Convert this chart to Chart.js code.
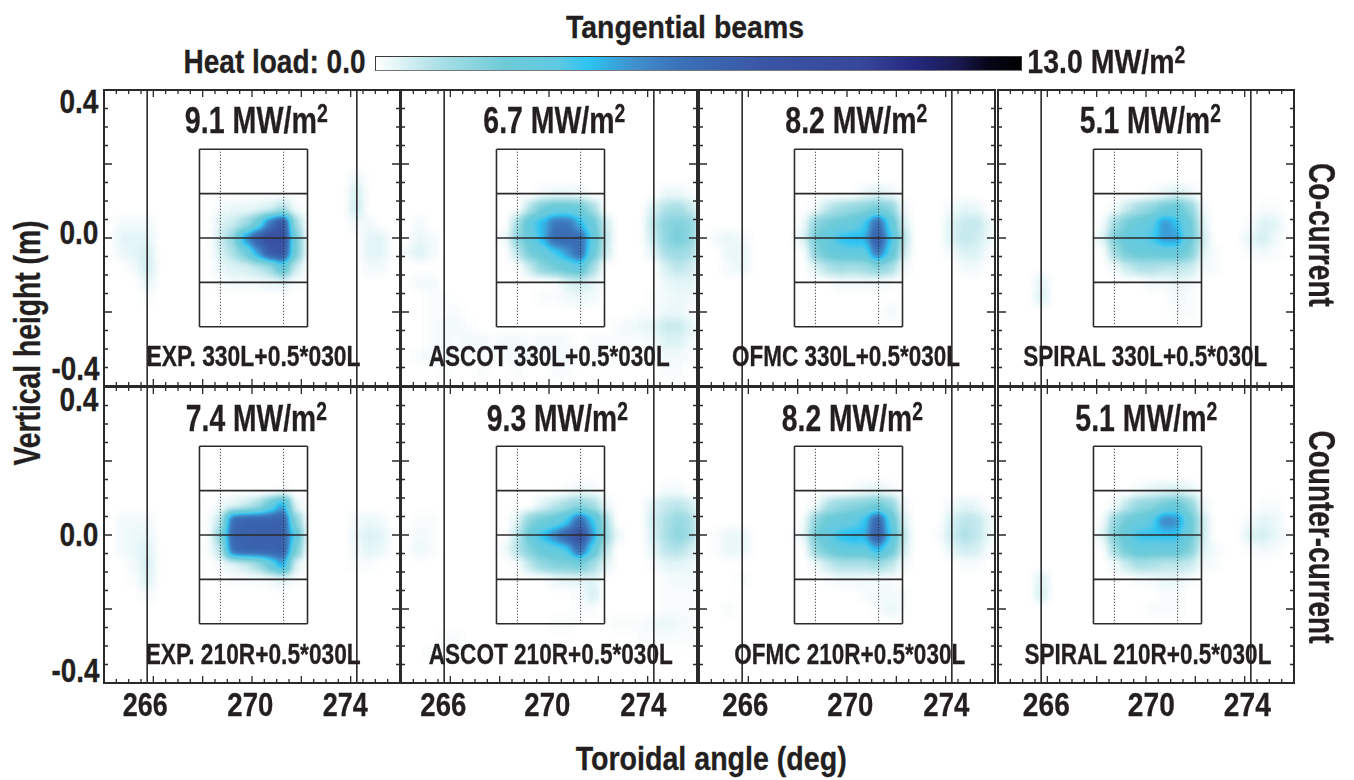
<!DOCTYPE html>
<html>
<head>
<meta charset="utf-8">
<title>Tangential beams</title>
<script src="https://cdn.jsdelivr.net/npm/chart.js@4"></script>
<style>
  html, body { margin: 0; padding: 0; background: #fff; }
  #page { position: relative; width: 1354px; height: 780px; overflow: hidden; }
  #page canvas { position: absolute; }
  .txt { position: absolute; white-space: nowrap; line-height: 1; color: #231f20; font-weight: 700;
         font-family: "Liberation Sans Narrow", "Liberation Sans", sans-serif; transform-origin: center center;
         -webkit-text-stroke: 0.3px #231f20; }
  .txt sup { font-size: 68%; line-height: 0; vertical-align: baseline; position: relative; top: -0.42em; }
  #colorbar { position: absolute; left: 375px; top: 56px; width: 647px; height: 15px; box-sizing: border-box;
              border: 1px solid #3a3a3a; border-bottom-color: #777; }
</style>
</head>
<body>
<div id="page"><div id="colorbar"></div></div>
<script>
// ─── DATA ────────────────────────────────────────────────
const panelLabels = [
  'EXP. 330L+0.5*030L', 'ASCOT 330L+0.5*030L', 'OFMC 330L+0.5*030L', 'SPIRAL 330L+0.5*030L',
  'EXP. 210R+0.5*030L', 'ASCOT 210R+0.5*030L', 'OFMC 210R+0.5*030L', 'SPIRAL 210R+0.5*030L'
];
const peakLabels = ['9.1', '6.7', '8.2', '5.1', '7.4', '9.3', '8.2', '5.1'];
const xTickLabels = ['266', '270', '274'];
const yTickLabels = ['0.4', '0.0', '-0.4'];

const wallAngles = [265.75, 274.25];
const boxAngles = [267.87, 272.25];
const dottedAngles = [268.72, 271.28];
const boxHeights = [0.24, 0.12, 0, -0.12, -0.24];

const colAngles = [
  264.25, 264.75, 265.25, 265.75, 266.25, 266.75, 267.25, 267.75,
  268.25, 268.75, 269.25, 269.75, 270.25, 270.75, 271.25, 271.75,
  272.25, 272.75, 273.25, 273.75, 274.25, 274.75, 275.25, 275.75
];
const rowHeights = [0.16, 0.12, 0.08, 0.04, 0, -0.04, -0.08, -0.12, -0.16, -0.2, -0.24, -0.28, -0.32, -0.36];

// heat load (MW/m2), rows follow rowHeights, columns follow colAngles
const heatCoExp = [
  [0,0,0,0,0,0,0,0, 0,0,0,0,0,0,0,0, 0,0,0,0,.3,0,0,0],
  [0,0,0,0,0,0,0,0, 0,0,0,0,0,0,0,0, 0,0,0,0,.6,0,0,0],
  [0,0,0,0,0,0,0,0, 0,.2,.3,.3,.4,.6,1.2,.2, 0,0,0,0,.7,0,0,0],
  [0,.2,.2,.2,0,0,0,0, 0,.5,.8,1.5,3,6,8,1.5, 0,0,0,0,.2,.2,0,0],
  [0,.4,.4,.4,0,0,0,0, 0,.8,1.8,5,7.5,8.5,8.5,2.5, 0,0,0,0,0,.4,.4,0],
  [0,.3,.4,.6,0,0,0,0, 0,.6,1.2,2.5,5,7.5,8,2.5, 0,0,0,0,0,.4,.4,0],
  [0,0,.2,.7,0,0,0,0, 0,.3,.5,.6,1,1.5,3.5,.8, 0,0,0,0,0,.2,.2,0],
  [0,0,0,.4,0,0,0,0, 0,.1,.2,.2,.2,.3,.4,.1, 0,0,0,0,0,0,0,0],
  [0,0,0,.1,0,0,0,0, 0,0,0,0,0,0,0,0, 0,0,0,0,0,0,0,0]
];
const heatCoAscot = [
  [0,0,0,0,0,0,0,0, 0,0,0,0,0,0,0,0, 0,0,0,0,0,0,0,0],
  [0,0,0,0,0,0,0,0, 0,0,0,.2,.3,.3,.2,0, 0,0,0,0,0,.3,.3,.1],
  [0,0,0,0,0,0,0,0, 0,0,1.2,2.5,3,3,2.8,1.5, 0,0,0,0,.6,1.2,1.4,.8],
  [0,.2,0,0,0,0,0,0, 0,1.5,3.5,4.5,6,6,4.5,3, .8,0,0,0,1,1.9,2.2,1.9],
  [0,.3,.2,0,0,0,0,0, .2,2,3,4.5,6.5,6.5,6.5,3.5, 1,0,0,0,.8,1.9,2.4,1.9],
  [.2,.5,.2,0,0,0,0,0, 0,1,2.5,3,4,5,6.5,3, .8,0,0,0,.4,1.4,1.6,1.3],
  [0,0,0,0,0,0,0,0, 0,0,.8,2,2.5,3,3.5,1.5, 0,0,0,0,0,.6,1,.7],
  [0,.2,.2,0,0,0,0,0, 0,0,0,0,0,.5,.7,.4, 0,0,0,0,0,.3,.4,.4],
  [0,0,.1,.1,0,0,0,0, 0,0,0,.1,.1,.2,.3,.2, 0,0,0,0,.1,.2,.3,.2],
  [0,0,.1,.1,.1,0,0,0, 0,0,0,0,0,0,0,0, 0,0,0,.1,.1,.3,.3,.1],
  [0,0,.1,.2,.2,.1,0,0, 0,0,0,0,0,0,0,0, 0,.1,.2,.3,.4,.8,.8,.4],
  [0,0,.1,.2,.1,.2,.2,.1, .2,.2,.1,.2,.2,.1,0,.1, .1,.1,.1,.1,.2,.5,.5,.2],
  [0,.1,.2,.2,.1,.1,.1,.1, .1,.2,.1,.1,.2,.2,.1,.1, .1,.1,0,0,.1,.2,.2,.1],
  [0,0,0,.1,0,0,.1,0, 0,.1,0,0,.1,.1,0,0, 0,0,0,0,0,.1,.1,0]
];
const heatCoOfmc = [
  [0,0,0,0,0,0,0,0, 0,0,0,0,0,0,0,0, 0,0,0,0,0,0,0,0],
  [0,0,0,0,0,0,0,0, 0,0,0,0,0,.3,.5,.3, 0,0,0,0,0,0,0,0],
  [0,0,0,0,0,0,0,0, 0,.2,1,1.5,1.8,2,2.5,2, .2,0,0,0,.2,.4,.3,0],
  [0,0,0,0,0,0,0,0, .2,2,2.5,2.8,3.2,4,6.5,3.5, .6,0,0,0,.5,.8,.9,.3],
  [0,.2,.3,.2,0,0,0,0, .5,2.5,3.2,4.3,4.5,4.5,7.5,4.2, 1.2,0,0,0,.5,.9,.7,.3],
  [0,0,.3,.3,0,0,0,0, 0,2,2.8,3.2,3.5,3.3,6,3.5, .8,0,0,0,.2,.5,.5,.1],
  [0,0,.2,.3,0,0,0,0, 0,.5,1.2,1.5,1.3,1.5,2,1.5, .2,0,0,0,0,.2,.2,0],
  [0,0,0,0,0,0,0,0, 0,0,0,.2,.2,.2,.2,.1, 0,0,0,0,0,0,0,0],
  [0,0,0,0,0,0,0,0, 0,0,0,0,0,0,0,0, 0,0,0,0,0,0,0,0],
  [0,0,0,0,0,0,0,0, 0,0,0,0,0,0,0,.2, 0,0,0,0,0,0,0,0]
];
const heatCoSpiral = [
  [0,0,0,0,0,0,0,0, 0,0,0,0,0,0,0,0, 0,0,0,0,0,0,0,0],
  [0,0,0,0,0,0,0,0, 0,0,0,0,.1,.3,.6,.3, 0,0,0,0,0,0,0,0],
  [0,0,0,0,0,0,0,0, 0,.2,.8,1.5,2,2.6,3,2, .2,0,0,0,0,.1,.1,0],
  [0,0,0,0,0,0,0,0, .1,1.5,2.5,3,3.5,5.2,4.3,2.8, .5,0,0,0,.1,.5,.4,0],
  [0,0,0,0,0,0,0,0, .4,2.3,3,3.5,4,5,5,2.8, .8,0,0,0,.4,.6,.2,0],
  [0,0,0,0,0,0,0,0, 0,1.5,2.5,2.8,2.8,3,3,2.3, .5,.1,0,0,.1,.2,.1,0],
  [0,0,0,0,0,0,0,0, 0,.2,.8,1.2,1.2,1,1,.8, .2,.1,0,0,0,0,0,0],
  [0,0,0,.4,0,0,0,0, 0,0,0,0,.2,.2,.3,.2, 0,0,0,0,0,0,0,0],
  [0,0,0,.5,0,0,0,0, 0,0,0,0,0,0,.2,.1, 0,0,0,0,0,0,0,0],
  [0,0,0,0,0,0,0,0, 0,0,0,0,0,0,.1,.1, 0,0,0,0,0,0,0,0]
];
const heatCtrExp = [
  [0,0,0,0,0,0,0,0, 0,0,0,0,0,0,0,0, 0,0,0,0,0,0,0,0],
  [0,0,0,0,0,0,0,0, 0,0,0,0,0,0,.1,0, 0,0,0,0,0,0,0,0],
  [0,0,0,0,0,0,0,0, 0,.2,.4,.8,1.5,3,5,.4, 0,0,0,0,0,0,0,0],
  [0,.2,.2,.2,0,0,0,0, .1,1,6.5,7,7,7,7.2,2, 0,0,0,0,.2,.3,.2,0],
  [0,.2,.3,.3,0,0,0,0, .1,2,7,7,7.2,7.2,7.2,3.5, 0,0,0,0,.3,.5,.4,0],
  [0,.2,.3,.5,0,0,0,0, .1,1,6.5,7,7,7,7.2,2.5, 0,0,0,0,.2,.4,.3,0],
  [0,0,.2,.6,0,0,0,0, 0,.2,.4,.8,1.5,3,5,.5, 0,0,0,0,.1,.1,0,0],
  [0,0,.1,.5,0,0,0,0, 0,0,.1,.1,.1,.2,.4,.1, 0,0,0,0,0,0,0,0],
  [0,0,0,.2,0,0,0,0, 0,0,0,0,0,0,0,0, 0,0,0,0,0,0,0,0]
];
const heatCtrAscot = [
  [0,0,0,0,0,0,0,0, 0,0,0,0,0,0,0,0, 0,0,0,0,0,0,0,0],
  [0,0,0,0,0,0,0,0, 0,0,0,0,0,.1,.3,.2, 0,0,0,0,0,.2,.2,0],
  [0,0,0,0,0,0,0,0, 0,0,0,.5,1,1.5,2,1.5, .4,0,0,0,.5,.9,1,.7],
  [0,.1,.1,0,0,0,0,0, 0,.5,2,2.6,3,4,6.5,4.3, 1.5,0,0,0,.7,1.2,1.7,1.3],
  [0,.2,.1,0,0,0,0,0, 0,1,3,4.3,5.5,7,8.5,5, 1.8,.3,0,0,.6,1.3,1.9,1.3],
  [0,.3,.1,0,0,0,0,0, .2,1.2,2.2,3,3.3,4,6.5,3.5, 1,0,0,0,.4,1,1.1,.7],
  [0,0,0,0,0,0,0,0, 0,.1,1,1.8,2.2,2.2,2.5,1.5, .5,0,0,0,.1,.4,.4,.3],
  [0,0,0,0,0,0,0,0, 0,0,0,0,.3,.4,.4,.5, 0,0,0,0,0,.1,.2,.2],
  [0,0,0,0,0,0,0,0, 0,0,0,0,0,0,.1,.6, 0,0,0,0,0,.1,.1,.1],
  [0,0,0,0,0,0,0,0, 0,0,0,0,0,0,.1,.1, 0,0,0,0,0,.1,.1,.1],
  [0,0,0,0,0,0,0,0, 0,0,0,0,.1,.1,0,0, 0,.1,.1,.1,.2,.3,.2,.1],
  [0,0,0,.1,.1,0,0,0, 0,0,0,0,0,0,0,0, 0,0,0,.1,.1,.1,.1,.1],
  [0,0,.1,.1,.1,0,0,0, 0,0,0,0,0,0,0,0, 0,0,0,0,0,0,0,0]
];
const heatCtrOfmc = [
  [0,0,0,0,0,0,0,0, 0,0,0,0,0,0,0,0, 0,0,0,0,0,0,0,0],
  [0,0,0,0,0,0,0,0, 0,0,0,0,.1,.3,.4,.2, 0,0,0,0,0,0,0,0],
  [0,0,0,0,0,0,0,0, 0,.2,1.2,1.8,2,2.2,2.6,2, .2,0,0,0,.2,.4,.3,0],
  [0,0,0,0,0,0,0,0, .1,2,2.8,3,3.4,4.2,7,3.5, .6,0,0,0,.6,1,.9,.3],
  [0,.1,.3,.3,0,0,0,0, .3,2.5,3.4,4.3,4.5,4.5,7.5,4, 1,0,0,.1,.7,1.2,.9,.3],
  [0,.1,.3,.3,0,0,0,0, 0,1.8,2.6,3.2,3.5,3.3,4.5,3, .7,0,0,0,.4,.7,.6,.1],
  [0,0,0,0,0,0,0,0, 0,.2,.8,1.2,1.2,1.2,1.5,1, .2,0,0,0,0,.1,.1,0],
  [0,0,0,.1,0,0,0,0, 0,0,.1,.2,.2,.2,.2,.1, 0,0,0,0,0,0,0,0],
  [0,0,0,0,0,0,0,0, 0,0,0,0,0,.1,.2,.2, .1,0,0,0,0,0,0,0],
  [0,0,.1,0,0,0,0,0, 0,0,0,0,0,0,.1,.3, .1,0,0,0,0,0,0,0]
];
const heatCtrSpiral = [
  [0,0,0,0,0,0,0,0, 0,0,0,0,0,0,0,0, 0,0,0,0,0,0,0,0],
  [0,0,0,0,0,0,0,0, 0,0,0,.2,.4,.5,.6,.4, 0,0,0,0,0,0,0,0],
  [0,0,0,0,0,0,0,0, 0,.2,1,1.8,2,2.6,3,2, .3,0,0,0,0,.1,.1,0],
  [0,0,0,0,0,0,0,0, .1,1.8,2.6,3,3.6,5.5,5.2,3, .8,0,0,0,.2,.4,.3,0],
  [0,0,0,0,0,0,0,0, .4,2.2,3.2,4.2,4.2,4.3,4.3,2.8, .8,0,0,0,.5,.6,.3,.1],
  [0,0,0,0,0,0,0,0, 0,1.5,2.6,3.2,3,3,3,2.2, .5,.2,0,0,.1,.2,.1,0],
  [0,0,0,0,0,0,0,0, 0,.2,.8,1.4,1.2,1,1,.8, .2,.1,0,0,0,0,0,0],
  [0,0,0,.5,0,0,0,0, 0,0,0,.1,.2,.3,.3,.1, 0,0,0,0,0,0,0,0],
  [0,0,0,.6,0,0,0,0, 0,0,0,0,0,.1,.1,0, 0,0,0,0,0,0,0,0],
  [0,0,0,0,0,0,0,0, 0,0,0,0,.1,.1,.1,0, 0,0,0,0,0,0,0,0]
];
const panelHeat = [heatCoExp, heatCoAscot, heatCoOfmc, heatCoSpiral, heatCtrExp, heatCtrAscot, heatCtrOfmc, heatCtrSpiral];

const heatMax = 13;
const rampStops = [0, 0.1, 0.2, 0.28, 0.33, 0.4, 0.47, 0.6, 0.75, 0.83, 0.9, 0.95, 1];
const rampColors = ['#ffffff', '#a9dfe6', '#6ecbd8', '#5fc9e2', '#2cc4f2', '#4190cc', '#3a72b8',
                    '#3a55a5', '#37479b', '#262a82', '#1a1a52', '#050518', '#000000'];

// ─── COLOUR RAMP ─────────────────────────────────────────
function hexRgb(h) { return [1, 3, 5].map(i => parseInt(h.slice(i, i + 2), 16)); }

function rampRgb(t) {
  let i = 0;
  while (i < rampStops.length - 2 && t > rampStops[i + 1]) i++;
  const f = Math.min(1, Math.max(0, (t - rampStops[i]) / (rampStops[i + 1] - rampStops[i])));
  const a = hexRgb(rampColors[i]), b = hexRgb(rampColors[i + 1]);
  return a.map((v, k) => Math.round(v + (b[k] - v) * f));
}

const rampTable = [];
for (let g = 0; g < 256; g++) rampTable.push(rampRgb(g / 255));

// cells are painted in grey (value / heatMax), the layer is softened, then mapped through the ramp
const cellSprites = {};
function cellSprite(v) {
  if (!cellSprites[v]) {
    const c = document.createElement('canvas');
    c.width = 13; c.height = 15;
    const g = c.getContext('2d');
    const level = Math.round(v / heatMax * 255);
    g.fillStyle = 'rgb(' + level + ',' + level + ',' + level + ')';
    g.fillRect(0, 0, 13, 15);
    cellSprites[v] = c;
  }
  return cellSprites[v];
}

// ─── PLUGINS ─────────────────────────────────────────────
const heatLayer = {
  id: 'heatLayer',
  beforeDatasetDraw(chart, args) {
    if (args.index !== 0) return;
    const a = chart.chartArea;
    chart.ctx.fillStyle = '#000';
    chart.ctx.fillRect(a.left, a.top, a.right - a.left, a.bottom - a.top);
  },
  afterDatasetDraw(chart, args) {
    if (args.index !== 0) return;
    const a = chart.chartArea, w = a.right - a.left, h = a.bottom - a.top;
    const tmp = document.createElement('canvas');
    tmp.width = w; tmp.height = h;
    const t = tmp.getContext('2d', { willReadFrequently: true });
    t.fillStyle = '#000';
    t.fillRect(0, 0, w, h);
    t.filter = 'blur(4px)';
    t.drawImage(chart.canvas, a.left, a.top, w, h, 0, 0, w, h);
    t.filter = 'none';
    const img = t.getImageData(0, 0, w, h);
    for (let i = 0; i < img.data.length; i += 4) {
      const c = rampTable[img.data[i]];
      img.data[i] = c[0]; img.data[i + 1] = c[1]; img.data[i + 2] = c[2]; img.data[i + 3] = 255;
    }
    chart.ctx.putImageData(img, a.left, a.top);
  }
};

const panelFrame = {
  id: 'panelFrame',
  afterDraw(chart) {
    const { ctx, chartArea: a, scales: { x, y } } = chart;
    ctx.save();
    ctx.strokeStyle = '#2b2a2b';
    ctx.lineWidth = 1.3;
    ctx.beginPath();
    x.ticks.forEach(t => {
      const px = x.getPixelForValue(t.value);
      const len = t.value % 2 === 0 ? 7 : 4;
      ctx.moveTo(px, a.top); ctx.lineTo(px, a.top + len);
      ctx.moveTo(px, a.bottom); ctx.lineTo(px, a.bottom - len);
    });
    y.ticks.forEach(t => {
      const py = y.getPixelForValue(t.value);
      const q = t.value / 0.2;
      const len = Math.abs(q - Math.round(q)) < 1e-6 ? 8 : 4;
      ctx.moveTo(a.left, py); ctx.lineTo(a.left + len, py);
      ctx.moveTo(a.right, py); ctx.lineTo(a.right - len, py);
    });
    ctx.stroke();
    ctx.lineWidth = 2;
    ctx.strokeRect(a.left, a.top, a.right - a.left, a.bottom - a.top);
    ctx.restore();
  }
};

// ─── PANEL ───────────────────────────────────────────────
function lineSet(points, width, dash) {
  return {
    data: points, showLine: true, pointRadius: 0, borderColor: '#2b2a2b',
    borderWidth: width, borderDash: dash || [], order: 1
  };
}

function heatCells(grid) {
  const cells = [];
  grid.forEach((row, r) => row.forEach((v, c) => {
    if (v > 0) cells.push({ x: colAngles[c], y: rowHeights[r], v });
  }));
  return cells.sort((a, b) => a.v - b.v);
}

function makePanel(i, left, top) {
  const pad = 3, w = 296, h = 296;
  const cv = document.createElement('canvas');
  cv.width = w + pad * 2; cv.height = h + pad * 2;
  cv.style.left = (left - pad) + 'px';
  cv.style.top = (top - pad) + 'px';
  document.getElementById('page').appendChild(cv);

  const boxTop = boxHeights[0], boxBot = boxHeights[boxHeights.length - 1];
  const datasets = [{
    data: heatCells(panelHeat[i]),
    pointStyle: c => c.raw ? cellSprite(c.raw.v) : 'rect',
    pointRadius: 6,
    order: 10
  }];
  wallAngles.forEach(a => datasets.push(lineSet([{ x: a, y: -0.4 }, { x: a, y: 0.4 }], 1.6)));
  dottedAngles.forEach(a => datasets.push(lineSet([{ x: a, y: boxBot }, { x: a, y: boxTop }], 1.1, [1, 2])));
  boxAngles.forEach(a => datasets.push(lineSet([{ x: a, y: boxBot }, { x: a, y: boxTop }], 1.6)));
  boxHeights.forEach(b => datasets.push(lineSet([{ x: boxAngles[0], y: b }, { x: boxAngles[1], y: b }], 1.6)));

  new Chart(cv.getContext('2d'), {
    type: 'scatter',
    data: { datasets },
    options: {
      responsive: false,
      animation: false,
      layout: { padding: pad, autoPadding: false },
      plugins: { legend: { display: false }, tooltip: { enabled: false } },
      scales: {
        x: { type: 'linear', display: false, min: 264, max: 276, ticks: { stepSize: 0.5, autoSkip: false } },
        y: { type: 'linear', display: false, min: -0.4, max: 0.4, ticks: { stepSize: 0.05, autoSkip: false } }
      }
    },
    plugins: [heatLayer, panelFrame]
  });
}

// ─── TEXT ────────────────────────────────────────────────
// x0..x1 is the ink span in the reference, text gets squeezed to fit it
function place(html, x0, x1, cy, size) {
  const el = document.createElement('div');
  el.className = 'txt';
  el.innerHTML = html;
  el.style.fontSize = size + 'px';
  document.getElementById('page').appendChild(el);
  const natural = el.getBoundingClientRect().width;
  el.style.left = ((x0 + x1) / 2 - natural / 2) + 'px';
  el.style.top = (cy - size / 2) + 'px';
  el.style.transform = 'scaleX(' + (x1 - x0) / natural + ')';
}

function placeRot(html, cx, y0, y1, size, rot) {
  const el = document.createElement('div');
  el.className = 'txt';
  el.innerHTML = html;
  el.style.fontSize = size + 'px';
  document.getElementById('page').appendChild(el);
  const natural = el.getBoundingClientRect().width;
  el.style.left = (cx - natural / 2) + 'px';
  el.style.top = ((y0 + y1) / 2 - size / 2) + 'px';
  el.style.transform = 'rotate(' + rot + 'deg) scaleX(' + (y1 - y0) / natural + ')';
}

// ─── BUILD ───────────────────────────────────────────────
document.getElementById('colorbar').style.background =
  'linear-gradient(to right,' + rampStops.map((s, i) => rampColors[i] + ' ' + s * 100 + '%').join(',') + ')';

const panelLefts = [104, 401, 699, 998];
const panelTops = [90, 387];
panelHeat.forEach((g, i) => makePanel(i, panelLefts[i % 4], panelTops[i < 4 ? 0 : 1]));

place('Tangential beams', 566, 804, 27, 32);
place('Heat load: 0.0', 184, 366, 61, 34);
place('13.0 MW/m<sup>2</sup>', 1027, 1185, 61, 34);
place('Toroidal angle (deg)', 576, 847, 758, 34);
placeRot('Vertical height (m)', 28, 220, 465, 36, -90);
placeRot('Co-current', 1321, 163, 307, 36, 90);
placeRot('Counter-current', 1321, 430, 643, 36, 90);

const peakSpans = [[185, 328], [483, 625], [785, 927], [1080, 1221], [186, 327], [487, 628], [782, 923], [1075, 1217]];
const captionSpans = [[147, 361], [429, 670], [732, 960], [1023, 1267], [146, 361], [429, 673], [734, 965], [1024, 1271]];
peakLabels.forEach((p, i) => {
  place(p + ' MW/m<sup>2</sup>', peakSpans[i][0], peakSpans[i][1], i < 4 ? 120 : 418, 37);
  place(panelLabels[i], captionSpans[i][0], captionSpans[i][1], i < 4 ? 356 : 654, 29);
});

const xSpans = [[123, 168], [227, 273], [323, 368], [420, 466], [524, 570], [620, 666],
                [722, 768], [827, 873], [923, 969], [1023, 1070], [1128, 1175], [1224, 1271]];
xSpans.forEach((s, i) => place(xTickLabels[i % 3], s[0], s[1], 704, 34));

const ySpans = [[59, 98], [59, 98], [51, 99]];
[[101, 232, 368], [399, 534, 670]].forEach(row => row.forEach((cy, i) =>
  place(yTickLabels[i], ySpans[i][0], ySpans[i][1], cy, 33)));
</script>
</body>
</html>
